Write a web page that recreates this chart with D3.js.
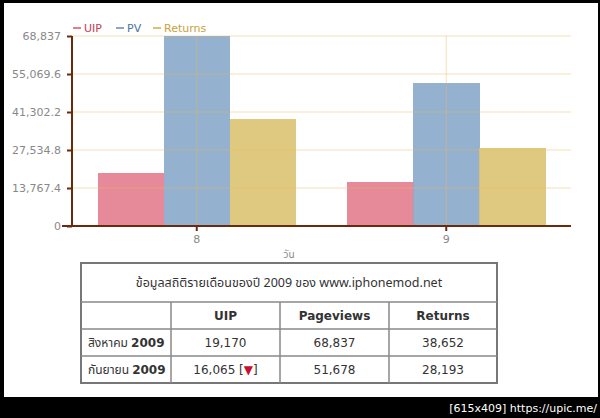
<!DOCTYPE html>
<html><head><meta charset="utf-8">
<script src="https://cdn.jsdelivr.net/npm/d3@7"></script>
<style>
html,body{margin:0;padding:0;background:#000;}
svg{display:block;}
</style></head>
<body>
<svg id="c" width="600" height="418"></svg>
<script>
const categories = ["8", "9"];
const seriesNames = ["UIP", "PV", "Returns"];
const uip = [19170, 16065];
const pv = [68837, 51678];
const returns = [38652, 28193];
const yTicks = [0, 13767.4, 27534.8, 41302.2, 55069.6, 68837];
const yTickLabels = ["0", "13,767.4", "27,534.8", "41,302.2", "55,069.6", "68,837"];
const xTitle = "วัน";
const tableTitle = "ข้อมูลสถิติรายเดือนของปี 2009 ของ www.iphonemod.net";
const tableHeaders = ["UIP", "Pageviews", "Returns"];
const rowMonths = ["สิงหาคม", "กันยายน"];
const rowYear = "2009";

const barColors = ["#e37d8f", "#88a8ca", "#dcc373"];
const legendColors = ["#c83a55", "#4a72a0", "#c9a23a"];

const svg = d3.select("#c");
const F = "'DejaVu Sans', Verdana, sans-serif";
const FT = "'Noto Sans Thai', 'Noto Sans', 'DejaVu Sans', sans-serif";

// white page area inside black frame
svg.append("rect").attr("x",4).attr("y",3).attr("width",594).attr("height",394).attr("fill","#fff");

const x0 = d3.scaleBand().domain(categories).range([72, 571]).padding(0);
const x1 = d3.scaleBand().domain(seriesNames).range([0, x0.bandwidth()]).paddingInner(0).paddingOuter(0.39);
const y = d3.scaleLinear().domain([0, 68837]).range([226, 36]);

const values = [uip, pv, returns];

// bars
const g = svg.append("g").attr("shape-rendering", "crispEdges");
categories.forEach((c, ci) => {
  seriesNames.forEach((s, si) => {
    const v = values[si][ci];
    g.append("rect")
      .attr("x", x0(c) + x1(s))
      .attr("y", y(v))
      .attr("width", x1.bandwidth() + 0.5)
      .attr("height", y(0) - y(v))
      .attr("fill", barColors[si])
      .attr("opacity", 0.9);
  });
});

// grid (on top, semi-transparent)
const grid = svg.append("g");
yTicks.slice(1).forEach(t => {
  grid.append("line").attr("x1", 72).attr("x2", 571)
    .attr("y1", y(t)).attr("y2", y(t))
    .attr("stroke", "#e8b860").attr("stroke-opacity", 0.45).attr("stroke-width", 1);
});
categories.forEach(c => {
  const cx = x0(c) + x0.bandwidth() / 2;
  grid.append("line").attr("x1", cx).attr("x2", cx)
    .attr("y1", 36).attr("y2", 226)
    .attr("stroke", "#e8b860").attr("stroke-opacity", 0.45).attr("stroke-width", 1);
});

// y axis
const yAxis = d3.axisLeft(y).tickValues(yTicks).tickFormat((d, i) => yTickLabels[i]).tickSize(5).tickPadding(6);
const ya = svg.append("g").attr("transform", "translate(72,0)").call(yAxis);
ya.select(".domain").attr("stroke", "#6b2a0c").attr("stroke-width", 2).attr("d", "M0,36V226");
ya.selectAll(".tick line").attr("stroke", "#6b2a0c").attr("stroke-width", 2);
ya.selectAll(".tick text").attr("fill", "#888").attr("font-family", F).attr("font-size", 11);

// x axis
const xAxis = d3.axisBottom(x0).tickSize(5).tickPadding(4);
const xa = svg.append("g").attr("transform", "translate(0,226)").call(xAxis);
xa.select(".domain").attr("stroke", "#6b2a0c").attr("stroke-width", 2).attr("d", "M62,0H571");
xa.selectAll(".tick line").attr("stroke", "#6b2a0c").attr("stroke-width", 2);
xa.selectAll(".tick text").attr("fill", "#888").attr("font-family", F).attr("font-size", 11);

svg.append("text").attr("x", 289).attr("y", 258).attr("text-anchor", "middle")
  .attr("fill", "#888").attr("font-family", FT).attr("font-size", 10).text(xTitle);

// legend
const legX = [73, 116, 153];
seriesNames.forEach((s, i) => {
  svg.append("line").attr("x1", legX[i]).attr("x2", legX[i] + 8).attr("y1", 28).attr("y2", 28)
    .attr("stroke", barColors[i]).attr("stroke-width", 2);
  svg.append("text").attr("x", legX[i] + 11).attr("y", 32)
    .attr("fill", legendColors[i]).attr("font-family", F).attr("font-size", 11).text(s);
});

// table
const colX = [81, 171, 280, 389, 497];
const rowY = [263, 302, 329, 356, 383];
const tb = svg.append("g");
tb.append("rect").attr("x", colX[0]).attr("y", rowY[0]).attr("width", colX[4]-colX[0]).attr("height", rowY[4]-rowY[0])
  .attr("fill", "none").attr("stroke", "#777").attr("stroke-width", 2);
rowY.slice(1, 4).forEach(ry => {
  tb.append("line").attr("x1", colX[0]).attr("x2", colX[4]).attr("y1", ry).attr("y2", ry)
    .attr("stroke", "#888").attr("stroke-width", 1.5);
});
colX.slice(1, 4).forEach(cx => {
  tb.append("line").attr("x1", cx).attr("x2", cx).attr("y1", rowY[1]).attr("y2", rowY[4])
    .attr("stroke", "#888").attr("stroke-width", 1.5);
});
tb.append("text").attr("x", (colX[0]+colX[4])/2).attr("y", 287).attr("text-anchor", "middle")
  .attr("fill", "#333").attr("font-family", FT).attr("font-size", 12.5).text(tableTitle);
tableHeaders.forEach((h, i) => {
  tb.append("text").attr("x", (colX[i+1]+colX[i+2])/2).attr("y", 320).attr("text-anchor", "middle")
    .attr("fill", "#333").attr("font-family", F).attr("font-weight", "bold").attr("font-size", 12).text(h);
});
const fmt = d3.format(",");
rowMonths.forEach((m, r) => {
  const ty = rowY[r+2] + 18;
  const t = tb.append("text").attr("x", 88).attr("y", ty).attr("fill", "#333").attr("font-family", FT).attr("font-size", 12);
  t.append("tspan").text(m + " ");
  t.append("tspan").attr("font-weight", "bold").attr("font-family", F).text(rowYear);
  values.forEach((vals, i) => {
    const cx = (colX[i+1]+colX[i+2])/2;
    if (r === 1 && i === 0) {
      const tt = tb.append("text").attr("x", cx).attr("y", ty).attr("text-anchor", "middle")
        .attr("fill", "#333").attr("font-family", F).attr("font-size", 12);
      tt.append("tspan").text(fmt(vals[r]) + " [");
      tt.append("tspan").attr("fill", "#c8102e").text("\u25BC");
      tt.append("tspan").text("]");
    } else {
      tb.append("text").attr("x", cx).attr("y", ty).attr("text-anchor", "middle")
        .attr("fill", "#333").attr("font-family", F).attr("font-size", 12).text(fmt(vals[r]));
    }
  });
});

// watermark
svg.append("text").attr("x", 597).attr("y", 412).attr("text-anchor", "end")
  .attr("fill", "#fff").attr("font-family", F).attr("font-size", 11).text("[615x409] https://upic.me/");
</script>
</body></html>
